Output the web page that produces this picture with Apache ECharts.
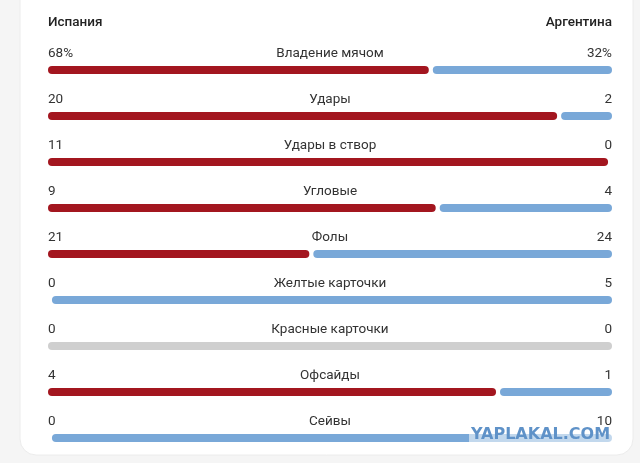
<!DOCTYPE html>
<html><head><meta charset="utf-8">
<script src="https://cdn.jsdelivr.net/npm/echarts@6/dist/echarts.min.js"></script>
<style>html,body{margin:0;padding:0;background:#f5f5f5;}#c{width:640px;height:463px;}</style>
</head><body><div id="c"></div>
<script>
const teamLeft = 'Испания';
const teamRight = 'Аргентина';
const categories = ['Владение мячом','Удары','Удары в створ','Угловые','Фолы','Желтые карточки','Красные карточки','Офсайды','Сейвы'];
const spain = [68,20,11,9,21,0,0,4,0];
const argentina = [32,2,0,4,24,5,0,1,10];
const spainLabels = ['68%','20','11','9','21','0','0','4','0'];
const argentinaLabels = ['32%','2','0','4','24','5','0','1','10'];

const GAP = 0.007;
const redData = [], gapData = [], blueData = [], greyData = [];
for (let i = 0; i < categories.length; i++) {
  const tot = spain[i] + argentina[i];
  if (tot === 0) { redData.push(0); gapData.push(0); blueData.push(0); greyData.push(1); continue; }
  const s = spain[i] / tot;
  redData.push(s * (1 - GAP));
  gapData.push(GAP);
  blueData.push((1 - s) * (1 - GAP));
  greyData.push(0);
}

const chart = echarts.init(document.getElementById('c'));
const font = 'Roboto, "Noto Sans", sans-serif';
const lab = {show:true, fontFamily:font, fontSize:13.5, color:'#333', verticalAlign:'bottom', lineHeight:32};
const hidden = {axisLine:{show:false}, axisTick:{show:false}, splitLine:{show:false}};
chart.setOption({
  animation:false,
  backgroundColor:'#f5f5f5',
  graphic:[
    {type:'rect', z:-10, shape:{x:20,y:-30,width:613,height:485,r:16}, style:{fill:'#ffffff', stroke:'#ececec', lineWidth:1}},
    {type:'text', z:100, left:469, top:426, style:{text:'YAPLAKAL.COM', font:'bold 16px "DejaVu Sans"', fill:'#5f92c8', backgroundColor:'rgba(255,255,255,0.55)', padding:[1,2]}}
  ],
  title:[
    {text:teamLeft, left:48, top:16, padding:0, textStyle:{fontFamily:font, fontSize:13.5, fontWeight:500, color:'#222'}},
    {text:teamRight, right:28, top:16, padding:0, textStyle:{fontFamily:font, fontSize:13.5, fontWeight:500, color:'#222'}}
  ],
  grid:{left:48, right:28, top:47, height:414},
  xAxis:{type:'value', min:0, max:1, show:false},
  yAxis:[
    Object.assign({type:'category', inverse:true, data:categories, position:'left',
      axisLabel:Object.assign({align:'center', margin:-282}, lab)}, hidden),
    Object.assign({type:'category', inverse:true, data:spainLabels, position:'left',
      axisLabel:Object.assign({align:'left', margin:0}, lab)}, hidden),
    Object.assign({type:'category', inverse:true, data:argentinaLabels, position:'right',
      axisLabel:Object.assign({align:'right', margin:0}, lab)}, hidden)
  ],
  series:[
    {type:'bar', stack:'s', yAxisIndex:0, barWidth:8, data:redData, itemStyle:{color:'#a3161f', borderRadius:4}},
    {type:'bar', stack:'s', yAxisIndex:0, barWidth:8, data:gapData, itemStyle:{color:'rgba(0,0,0,0)'}},
    {type:'bar', stack:'s', yAxisIndex:0, barWidth:8, data:blueData, itemStyle:{color:'#79a8d8', borderRadius:4}},
    {type:'bar', stack:'s', yAxisIndex:0, barWidth:8, data:greyData, itemStyle:{color:'#cfcfcf', borderRadius:4}}
  ]
});
</script></body></html>
